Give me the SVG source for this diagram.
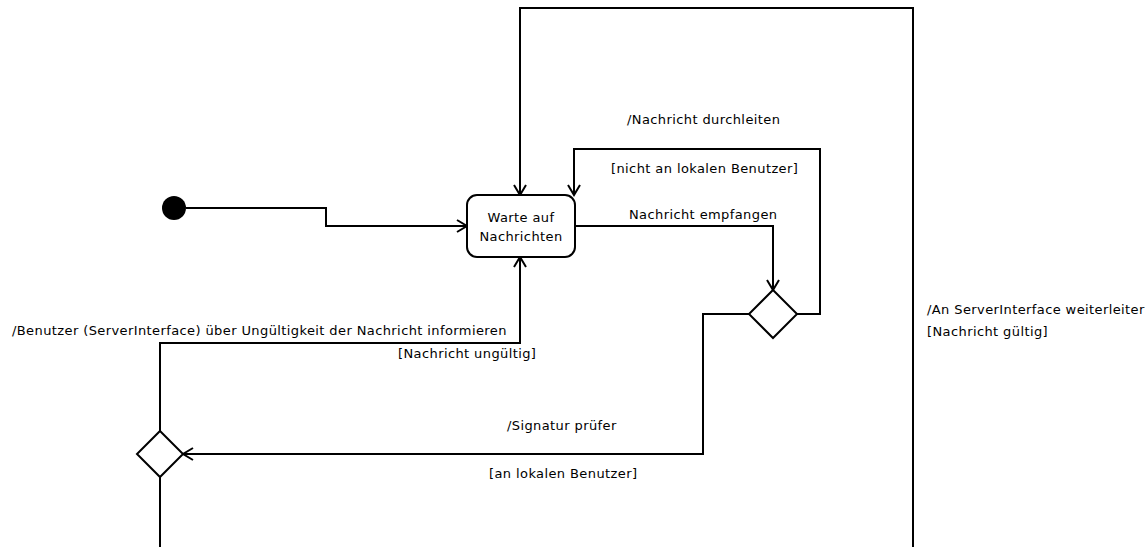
<svg xmlns="http://www.w3.org/2000/svg" width="1148" height="547" viewBox="0 0 1148 547">
  <style>
    .edge { fill: none; stroke: #000; stroke-width: 2; }
    .shape { fill: #fff; stroke: #000; stroke-width: 2; }
    text { font-family: "DejaVu Sans", sans-serif; font-size: 13px; letter-spacing: 0.4px; fill: #000; }
  </style>
  <defs>
    <marker id="open" markerWidth="14" markerHeight="14" refX="11" refY="7" orient="auto" markerUnits="userSpaceOnUse">
      <path d="M1,1 L11,7 L1,13" fill="none" stroke="#000" stroke-width="2"/>
    </marker>
  </defs>
  <rect width="1148" height="547" fill="#fff"/>

  <g id="connectors">
    <!-- start -> waiting state -->
    <path class="edge" d="M186,208 H326 V226 H467" marker-end="url(#open)"/>
    <!-- outer loop from the right back to the top of the state -->
    <path class="edge" d="M913,547 V8 H520 V195" marker-end="url(#open)"/>
    <!-- message received -> first decision -->
    <path class="edge" d="M575,226 H773 V290" marker-end="url(#open)"/>
    <!-- pass-through loop -->
    <path class="edge" d="M797,314 H820 V149 H574 V195" marker-end="url(#open)"/>
    <!-- local user -> signature decision -->
    <path class="edge" d="M750,314 H703 V454 H183" marker-end="url(#open)"/>
    <!-- invalid message -> back to the state -->
    <path class="edge" d="M160,431 V343 H520 V257" marker-end="url(#open)"/>
    <!-- valid message continues downwards -->
    <path class="edge" d="M160,477 V547"/>
  </g>

  <g id="start">
    <circle cx="174" cy="208" r="12" fill="#000"/>
  </g>

  <g id="wait">
    <rect class="shape" x="467" y="195" width="108" height="62" rx="10" ry="10"/>
    <text x="521" y="222" text-anchor="middle">Warte auf</text>
    <text x="521" y="241" text-anchor="middle">Nachrichten</text>
  </g>

  <g id="decision-target">
    <polygon class="shape" points="773,290 797,314 773,338 749,314"/>
  </g>

  <g id="decision-signature">
    <polygon class="shape" points="160,431 183,454 160,477 137,454"/>
  </g>

  <g id="labels">
    <text x="629" y="219">Nachricht empfangen</text>
    <text x="627" y="124">/Nachricht durchleiten</text>
    <text x="611" y="173">[nicht an lokalen Benutzer]</text>
    <text x="927" y="314">/An ServerInterface weiterleiter</text>
    <text x="927" y="336">[Nachricht gültig]</text>
    <text x="12" y="335">/Benutzer (ServerInterface) über Ungültigkeit der Nachricht informieren</text>
    <text x="398" y="358">[Nachricht ungültig]</text>
    <text x="507" y="430">/Signatur prüfer</text>
    <text x="489" y="478">[an lokalen Benutzer]</text>
  </g>
</svg>
